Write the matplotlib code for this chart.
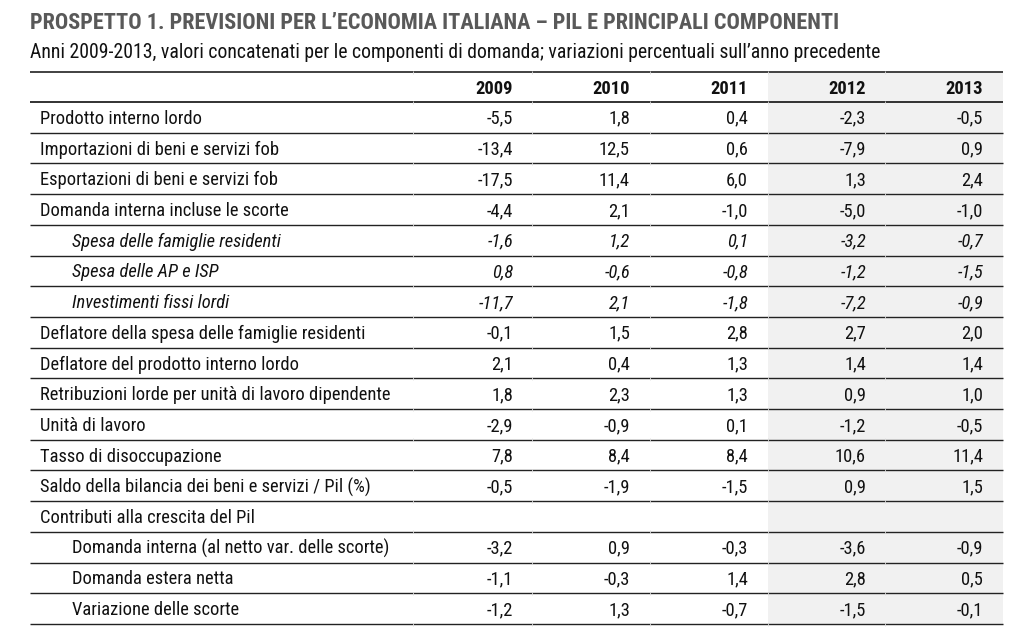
import matplotlib
matplotlib.use("Agg")
import matplotlib.pyplot as plt
from matplotlib import font_manager

# ---- data ----
title = "PROSPETTO 1. PREVISIONI PER L\u2019ECONOMIA ITALIANA \u2013 PIL E PRINCIPALI COMPONENTI"
subtitle = ("Anni 2009-2013, valori concatenati per le componenti di domanda; "
            "variazioni percentuali sull\u2019anno precedente")
years = ["2009", "2010", "2011", "2012", "2013"]
row_labels = [
    "Prodotto interno lordo",
    "Importazioni di beni e servizi fob",
    "Esportazioni di beni e servizi fob",
    "Domanda interna incluse le scorte",
    "Spesa delle famiglie residenti",
    "Spesa delle AP e ISP",
    "Investimenti fissi lordi",
    "Deflatore della spesa delle famiglie residenti",
    "Deflatore del prodotto interno lordo",
    "Retribuzioni lorde per unità di lavoro dipendente",
    "Unità di lavoro",
    "Tasso di disoccupazione",
    "Saldo della bilancia dei beni e servizi / Pil (%)",
    "Contributi alla crescita del Pil",
    "Domanda interna (al netto var. delle scorte)",
    "Domanda estera netta",
    "Variazione delle scorte",
]
row_italic = [False, False, False, False, True, True, True,
              False, False, False, False, False, False, False, False, False, False]
row_indent = [False, False, False, False, True, True, True,
              False, False, False, False, False, False, False, True, True, True]
v2009 = [-5.5, -13.4, -17.5, -4.4, -1.6, 0.8, -11.7, -0.1, 2.1, 1.8, -2.9, 7.8, -0.5, None, -3.2, -1.1, -1.2]
v2010 = [1.8, 12.5, 11.4, 2.1, 1.2, -0.6, 2.1, 1.5, 0.4, 2.3, -0.9, 8.4, -1.9, None, 0.9, -0.3, 1.3]
v2011 = [0.4, 0.6, 6.0, -1.0, 0.1, -0.8, -1.8, 2.8, 1.3, 1.3, 0.1, 8.4, -1.5, None, -0.3, 1.4, -0.7]
v2012 = [-2.3, -7.9, 1.3, -5.0, -3.2, -1.2, -7.2, 2.7, 1.4, 0.9, -1.2, 10.6, 0.9, None, -3.6, 2.8, -1.5]
v2013 = [-0.5, 0.9, 2.4, -1.0, -0.7, -1.5, -0.9, 2.0, 1.4, 1.0, -0.5, 11.4, 1.5, None, -0.9, 0.5, -0.1]
values = [v2009, v2010, v2011, v2012, v2013]

# ---- fonts ----
names = {f.name for f in font_manager.fontManager.ttflist}
fam = [n for n in ["Roboto Condensed", "Archivo Narrow", "Liberation Sans", "DejaVu Sans"] if n in names]
plt.rcParams['font.family'] = fam

W, H = 1024, 637
fig = plt.figure(figsize=(W / 100, H / 100), dpi=100)
ax = fig.add_axes([0, 0, 1, 1])
ax.set_xlim(0, W)
ax.set_ylim(H, 0)
ax.axis("off")

# layout (pixel coordinates)
x_left, x_right = 30, 1003
label_x, indent_x = 40, 72
col_right = [513, 630, 748, 866, 983]
col_bounds = [413, 532, 650, 768, 885]
shade_x0 = 768
top_y, head_bottom = 72, 102
row_h = (624 - 102) / len(row_labels)
FS = 13.3

def fmt(v):
    if v is None:
        return ""
    return f"{v:.1f}".replace(".", ",")

n = len(row_labels)
bottom_y = head_bottom + n * row_h

# shaded area
ax.add_patch(plt.Rectangle((shade_x0, top_y), x_right - shade_x0, bottom_y - top_y,
                           facecolor="#f1f1f1", edgecolor="none", zorder=0))

# title & subtitle
ax.text(x_left, 23, title, fontsize=16, fontweight="bold", color="#595959",
        ha="left", va="center")
ax.text(x_left, 53, subtitle, fontsize=14.2, color="#111111", ha="left", va="center")

# header
ax.hlines(top_y, x_left, x_right, color="#333333", lw=1.3)
ax.hlines(head_bottom, x_left, x_right, color="#222222", lw=1.3)
for xr, yr in zip(col_right, years):
    ax.text(xr, (top_y + head_bottom) / 2 + 1.5, yr, fontsize=FS, fontweight="bold",
            color="#111111", ha="right", va="center")

# rows
for i, lab in enumerate(row_labels):
    yc = head_bottom + (i + 0.5) * row_h
    style = "italic" if row_italic[i] else "normal"
    ax.text(indent_x if row_indent[i] else label_x, yc + 1.5, lab, fontsize=FS,
            style=style, color="#111111", ha="left", va="center")
    for j, col in enumerate(values):
        ax.text(col_right[j], yc + 1.5, fmt(col[i]), fontsize=FS, style=style,
                color="#111111", ha="right", va="center")
    ax.hlines(head_bottom + (i + 1) * row_h, x_left, x_right, color="#222222", lw=1.0)

# faint column boundary ticks
ys = [top_y, head_bottom] + [head_bottom + (i + 1) * row_h for i in range(n)]
for y in ys:
    for xb in col_bounds:
        ax.vlines(xb, y - 1.5, y + 1.5, color="#dddddd", lw=0.6)

fig.savefig("out.png", dpi=100)
